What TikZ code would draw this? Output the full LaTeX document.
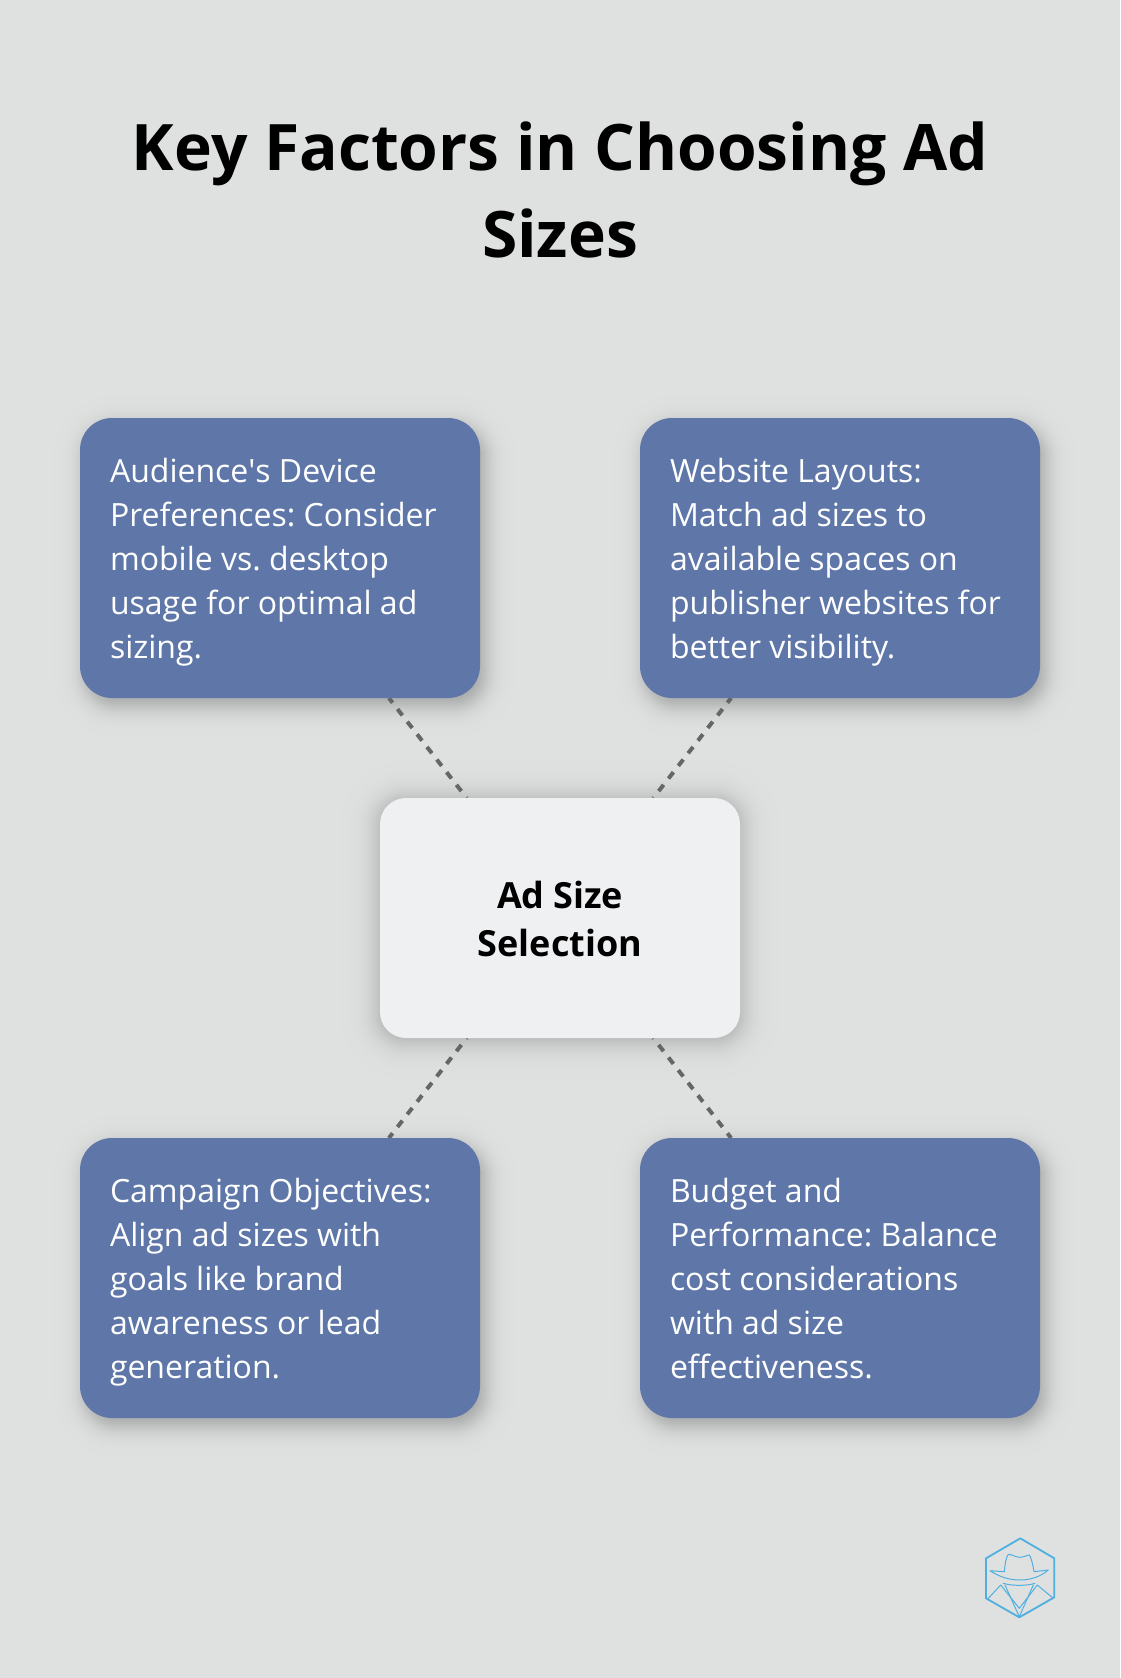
\documentclass[tikz,border=0pt]{standalone}
\usepackage{fontspec}
\setmainfont{Open Sans}
\newfontfamily\plainopen{Open Sans}
\usetikzlibrary{calc}
\definecolor{bgc}{HTML}{DFE1E0}
\definecolor{boxc}{HTML}{5E77A8}
\definecolor{midc}{HTML}{EFF0F2}
\definecolor{dashc}{HTML}{666666}
\definecolor{logoc}{HTML}{4FB0E0}
\pgfdeclarelayer{bglayer}
\pgfdeclarelayer{shadowlayer}
\pgfdeclarelayer{linelayer}
\pgfsetlayers{bglayer,shadowlayer,linelayer,main}
\frenchspacing
\tikzset{
  factor/.style={draw=none,fill=boxc,rounded corners=32pt,minimum width=400pt,minimum height=280pt,
    text width=340pt,inner sep=0pt,outer sep=0pt,align=left,text=white,font=\fontsize{32}{44}\selectfont,
    execute at begin node={\spaceskip=8.2pt\relax\rule{0pt}{35pt}},execute at end node={\rule[-9.6pt]{0pt}{9.6pt}}},
  hub/.style={draw=none,fill=midc,rounded corners=26pt,minimum width=360pt,minimum height=240pt,
    text width=360pt,inner sep=0pt,outer sep=0pt,align=center,text=black,font=\fontsize{36}{48}\selectfont\bfseries,
    execute at begin node={\spaceskip=8.5pt\relax\rule{0pt}{38pt}},execute at end node={\rule[-9pt]{0pt}{9pt}}},
  link/.style={draw=dashc,line width=4pt,dash pattern=on 8pt off 8pt,dash phase=2pt},
  headline/.style={inner sep=0pt,align=center,text=black,font=\fontsize{64.1}{87}\selectfont\bfseries},
  logoline/.style={draw=logoc,line width=1.8pt,line join=round,line cap=round},
  logothin/.style={draw=logoc,line width=1pt,line join=round,line cap=round}
}
% node, dx, dy, sigma, radius, opacity per step
\newcommand{\softshade}[6]{%
  \begin{pgfonlayer}{shadowlayer}
  \foreach \k in {0,...,63}{%
    \pgfmathsetmacro{\zz}{ln((\k+0.5)/(63.5-\k))/1.702}%
    \pgfmathsetmacro{\off}{#4*\zz}%
    \pgfmathsetmacro{\rad}{max(#5+\off,1)}%
    \fill[black,opacity=#6,rounded corners=\rad pt]
      ($(#1.south west)+(#2-\off,#3+\off)$) rectangle ($(#1.north east)+(#2+\off,#3-\off)$);
  }%
  \end{pgfonlayer}}
\begin{document}
\begin{tikzpicture}[x=1pt,y=-1pt]
\begin{pgfonlayer}{bglayer}
\fill[bgc] (0,0) rectangle (1120,1678);
\end{pgfonlayer}
\useasboundingbox (0,0) rectangle (1120,1678);
\node[headline] (title) at (560,190) {Key Factors in Choosing Ad\\Sizes};
\node[factor] (a) at (280,558) {Audience{\plainopen '}s Device\\Preferences: Consider\\mobile vs. desktop\\usage for optimal ad\\sizing.};
\node[factor] (b) at (840,558) {Website Layouts:\\Match ad sizes to\\available spaces on\\publisher websites for\\better visibility.};
\node[factor] (c) at (280,1278) {Campaign Objectives:\\Align ad sizes with\\goals like brand\\awareness or lead\\generation.};
\node[factor] (d) at (840,1278) {Budget and\\Performance: Balance\\cost considerations\\with ad size\\effectiveness.};
\node[hub] (m) at (560,918) {Ad Size\\Selection};
\softshade{a}{5}{8}{11}{32}{0.0045}
\softshade{b}{5}{8}{11}{32}{0.0045}
\softshade{c}{5}{8}{11}{32}{0.0045}
\softshade{d}{5}{8}{11}{32}{0.0045}
\softshade{m}{0}{2}{14}{26}{0.004}
\begin{pgfonlayer}{linelayer}
\draw[link] (a) -- (m);
\draw[link] (b) -- (m);
\draw[link] (c) -- (m);
\draw[link] (d) -- (m);
\end{pgfonlayer}
% logo
\draw[logoline] (1020.3,1538.3) -- (1054.3,1558.3) -- (1054.3,1597.3) -- (1019.3,1617.3) -- (986,1598.3) -- (986,1558.3) -- cycle;
\draw[logothin] (990,1570.7) -- (1004.3,1571.7) .. controls (1005,1564) and (1006,1557) .. (1008.3,1554.3) .. controls (1012,1554.5) and (1016,1557.3) .. (1020,1557.3) .. controls (1024,1557.3) and (1027,1555) .. (1029.3,1555) .. controls (1031,1557) and (1033,1565) .. (1034,1571.7) -- (1048.3,1570) .. controls (1040,1577) and (1030,1580) .. (1020,1580) .. controls (1008,1580) and (998,1576) .. (990,1570.7) -- cycle;
\draw[logothin] (1003.3,1583.3) .. controls (1012,1586) and (1027,1586) .. (1035,1583.3);
\draw[logothin] (988.3,1598.3) -- (1000.7,1585) -- (1019.3,1608.3) -- (1037.3,1585) -- (1053.3,1598.3);
\draw[logothin] (1005,1585) -- (1019.3,1616.7) -- (1033.3,1585);
\end{tikzpicture}
\end{document}
